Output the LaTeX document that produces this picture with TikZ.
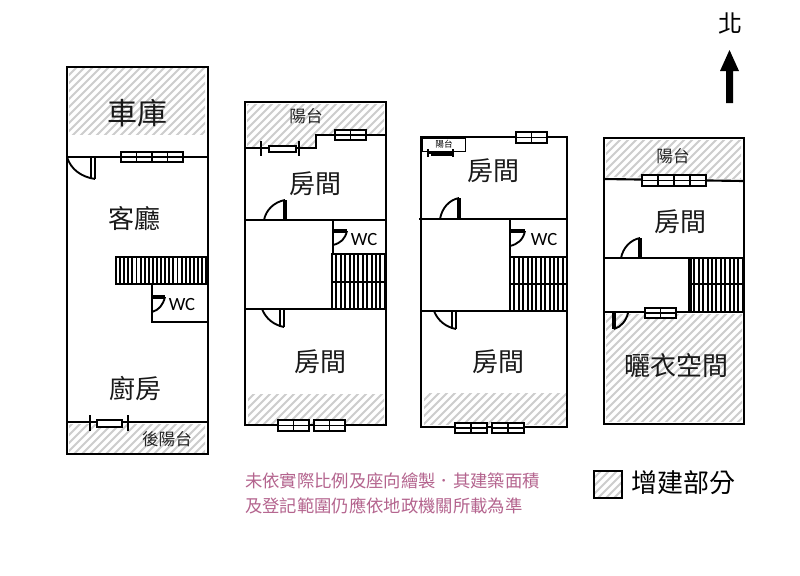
\documentclass[tikz,border=0pt]{standalone}
\usepackage{fontspec}
\setmainfont{Noto Sans CJK TC}
\newfontfamily\latinf{Carlito}
\definecolor{hatchgray}{HTML}{CDCDCD}
\definecolor{notepink}{HTML}{B4648E}
\tikzset{
  wall/.style={draw=black,line width=2.1pt},
  thinwall/.style={draw=black,line width=1.6pt},
  leaf/.style={draw=black,line width=1.4pt},
  thickleaf/.style={draw=black,line width=2.6pt},
  roomtext/.style={font=\fontsize{19.5pt}{20pt}\selectfont,inner sep=0pt,text=black!90},
  smalltext/.style={font=\fontsize{12.5pt}{13pt}\selectfont,inner sep=0pt,text=black!85},
  wctext/.style={font=\latinf\fontsize{14pt}{14pt}\selectfont,inner sep=0pt},
  notetext/.style={font=\fontsize{13pt}{13pt}\selectfont,inner sep=0pt,text=notepink},
}
\newcommand{\hatcharea}[1]{%
  \begin{scope}
    \clip #1;
    \foreach \s in {0,8,...,1400}{\draw[hatchgray,line width=1.4pt] (\s,0) -- (\s-575,575);}
  \end{scope}}
% window: x1,y1,x2,y2,panes
\newcommand{\windowbox}[5]{%
  \draw[fill=white,line width=1.7pt] (#1,#2) rectangle (#3,#4);
  \draw[line width=1.1pt] (#1,{(#2+#4)/2}) -- (#3,{(#2+#4)/2});
  \pgfmathsetmacro{\panew}{(#3-#1)/#5}
  \foreach \k in {1,...,#5}{\draw[line width=1.3pt] ({#1+\k*\panew},#2) -- ({#1+\k*\panew},#4);}
}
% stairs flight: x1,y1,x2,y2,spacing
\newcommand{\stairflight}[5]{%
  \pgfmathsetmacro{\nbars}{int((#3-#1)/#5)}
  \foreach \k in {0,...,\nbars}{\draw[line width=1.4pt] ({#1+\k*#5},#2) -- ({#1+\k*#5},#4);}
  \draw[line width=1.7pt] (#1,#2) rectangle (#3,#4);
}
\begin{document}
\begin{tikzpicture}[x=0.75pt,y=-0.75pt]
\useasboundingbox (0,0) rectangle (800,575);
\fill[white] (0,0) rectangle (800,575);

% ---------- Plan 1 ----------
\hatcharea{(69,68) rectangle (205,134)}
\hatcharea{(69,424) rectangle (205,452)}
\draw[wall] (67,67) rectangle (208,454);
\draw[thinwall] (67,157) -- (208,157);
\draw[thinwall] (67,422) -- (208,422);
\windowbox{121}{152}{183}{162}{4}
\draw[leaf] (91,157) -- (91,178);
\draw[thinwall] (95,157) -- (95,179);
\draw[leaf] (67,157) .. controls (71,170) and (82,177) .. (95,179);
\stairflight{116}{257}{206}{284}{4.1}
\draw[thinwall] (152,284) -- (152,322) -- (208,322);
\draw[thickleaf] (152,297) -- (165,297);
\draw[leaf] (165,297) .. controls (163,305) and (159,310) .. (152,312);
\draw[line width=2.2pt] (90,415) -- (90,431);
\draw[line width=2.2pt] (128,415) -- (128,431);
\draw[fill=white,line width=1.5pt] (97,420) rectangle (122,427);
\node[roomtext,font=\fontsize{22.5pt}{24pt}\selectfont] (garage) at (137,113) {車庫};
\node[roomtext] (living) at (134,219) {客廳};
\node[roomtext] (kitchen) at (135,388) {廚房};
\node[wctext] (wc1) at (182,305) {WC};
\node[smalltext] (backbalcony) at (167,439) {後陽台};

% ---------- Plan 2 ----------
\hatcharea{(247,104) -- (384,104) -- (384,134) -- (316,134) -- (316,147) -- (247,147) -- cycle}
\hatcharea{(248,394) rectangle (384,423)}
\draw[wall] (245,102) rectangle (386,425);
\draw[thinwall] (245,148) -- (316,148) -- (316,135) -- (386,135);
\windowbox{335}{130}{366}{140}{2}
\draw[fill=white,draw=white,line width=0pt] (262,146) rectangle (298,152);
\draw[line width=2.2pt] (261,141) -- (261,156);
\draw[line width=2.2pt] (299,141) -- (299,156);
\draw[line width=1.5pt] (261,148) -- (269,148) (296,148) -- (299,148);
\draw[fill=white,line width=1.5pt] (269,146) rectangle (296,152);
\draw[thinwall] (245,220) -- (386,220);
\draw[thinwall] (333,220) -- (333,254) -- (386,254);
\draw[thickleaf] (285,220) -- (285,200);
\draw[leaf] (264,220) .. controls (266,210) and (274,202) .. (285,200);
\draw[thickleaf] (333,231) -- (347,231);
\draw[leaf] (347,231) .. controls (345,239) and (341,243) .. (333,245);
\stairflight{332}{254}{386}{282}{4.4}
\stairflight{332}{282}{386}{309}{4.4}
\draw[thinwall] (245,309) -- (386,309);
\draw[leaf] (280,309) -- (280,327);
\draw[thinwall] (284,309) -- (284,327);
\draw[leaf] (262,309) .. controls (266,319) and (274,325) .. (284,327);
\windowbox{278}{420}{309}{431}{2}
\windowbox{314}{420}{345}{431}{2}
\node[smalltext] (balcony2) at (306,116) {陽台};
\node[roomtext] (room2a) at (315,184) {房間};
\node[wctext] (wc2) at (364,240) {WC};
\node[roomtext] (room2b) at (320,362) {房間};

% ---------- Plan 3 ----------
\hatcharea{(424,393) rectangle (566,424)}
\draw[wall] (421,137) rectangle (567,427);
\windowbox{516}{132}{547}{143}{2}
\draw[line width=0.5pt] (422,138) rectangle (465,151);
\draw[line width=1.4pt] (428,149) -- (428,157);
\draw[line width=1.4pt] (453,149) -- (453,157);
\draw[line width=1.2pt] (428,153) -- (431,153);
\draw[fill=black,line width=0.4pt] (431,151.5) rectangle (453,155);
\draw[thinwall] (419,219) -- (567,219);
\draw[thinwall] (510,219) -- (510,257) -- (567,257);
\draw[thickleaf] (459,219) -- (459,198);
\draw[leaf] (440,219) .. controls (442,208) and (449,200) .. (459,198);
\draw[thickleaf] (510,231) -- (525,231);
\draw[leaf] (525,231) .. controls (523,240) and (518,244) .. (510,246);
\stairflight{510}{257}{567}{284}{4.4}
\stairflight{510}{284}{567}{311}{4.4}
\draw[thinwall] (421,311) -- (567,311);
\draw[leaf] (452,311) -- (452,329);
\draw[thinwall] (456,311) -- (456,329);
\draw[leaf] (434,311) .. controls (438,321) and (446,327) .. (456,329);
\windowbox{455}{423}{487}{433}{2}
\windowbox{492}{423}{524}{433}{2}
\node[font=\fontsize{6.5pt}{7pt}\selectfont,inner sep=0pt] (balcony3) at (444,144) {陽台};
\node[roomtext] (room3a) at (493,171) {房間};
\node[wctext] (wc3) at (544,240) {WC};
\node[roomtext] (room3b) at (498,362) {房間};

% ---------- Plan 4 ----------
\hatcharea{(606,140) -- (741,140) -- (741,179) -- (606,177) -- cycle}
\hatcharea{(606,314) rectangle (742,421)}
\draw[wall] (604,138) rectangle (744,424);
\draw[thinwall] (604,179) -- (744,181);
\windowbox{642}{175}{706}{186}{4}
\draw[thinwall] (604,258) -- (744,258);
\draw[thickleaf] (640,258) -- (640,238);
\draw[leaf] (621,258) .. controls (623,248) and (630,240) .. (640,238);
\stairflight{690}{258}{744}{284}{4.4}
\stairflight{690}{284}{744}{312}{4.4}
\draw[line width=2.6pt] (690,258) -- (690,312);
\draw[thinwall] (604,312) -- (744,312);
\windowbox{645}{308}{676}{318}{2}
\draw[thickleaf] (614,313) -- (614,329);
\draw[leaf] (614,329) .. controls (621,327) and (626,321) .. (628,313);
\node[smalltext] (balcony4) at (673,156) {陽台};
\node[roomtext] (room4) at (680,222) {房間};
\node[roomtext] (drying) at (676,366) {曬衣空間};

% ---------- Note, legend, north ----------
\node[notetext,anchor=west] (note1) at (245,481) {未依實際比例及座向繪製．其建築面積};
\node[notetext,anchor=west] (note2) at (245,506) {及登記範圍仍應依地政機關所載為準};
\hatcharea{(594,471) rectangle (622,498)}
\draw[line width=1.8pt] (594,471) rectangle (622,498);
\node[font=\fontsize{19.5pt}{20pt}\selectfont,inner sep=0pt,anchor=west] (legend) at (631,483) {增建部分};
\node[font=\fontsize{18pt}{18pt}\selectfont,inner sep=0pt] (north) at (730,23) {北};
\coordinate (arrowbase) at (729.5,103);
\coordinate (arrowtip) at (729.5,50);
\fill[black] (arrowbase) ++(-3.5,0) -- ++(0,-32) -- ++(-6,0) -- (arrowtip) -- ++(9.5,21) -- ++(-6,0) -- ++(0,32) -- cycle;
\end{tikzpicture}
\end{document}
